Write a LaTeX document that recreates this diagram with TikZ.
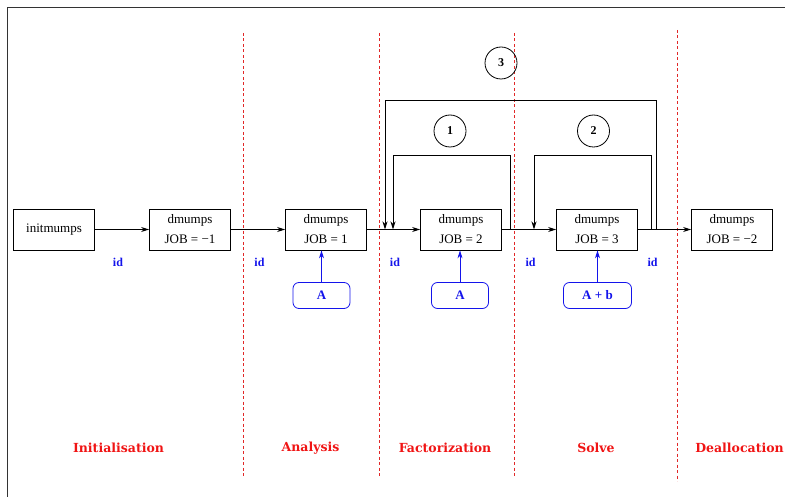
\documentclass[tikz,border=0pt]{standalone}
\usepackage{fontspec}
\setmainfont{Liberation Serif}
\newfontfamily\phasefont{DejaVu Serif}
\usetikzlibrary{arrows.meta}
\definecolor{fblue}{RGB}{20,20,235}
\definecolor{fred}{RGB}{240,20,20}
\definecolor{dred}{RGB}{225,40,40}
\begin{document}
\begin{tikzpicture}[x=1pt,y=-1pt,
  box/.style={draw,line width=0.8pt,minimum width=81pt,minimum height=41pt,inner sep=2pt,align=center,font=\fontsize{13}{20}\selectfont},
  inbox/.style={draw=fblue,text=fblue,line width=0.8pt,rounded corners=6pt,minimum height=26pt,inner sep=2pt,font=\fontsize{13}{15}\selectfont\bfseries},
  idlab/.style={text=fblue,font=\fontsize{12}{14}\selectfont\bfseries},
  phase/.style={text=fred,font=\phasefont\fontsize{12.5}{15}\selectfont\bfseries},
  num/.style={draw,circle,line width=0.8pt,minimum size=32pt,inner sep=0pt,font=\fontsize{12}{14}\selectfont\bfseries},
  arr/.style={line width=0.8pt,-{Stealth[length=8pt,width=5pt,inset=2.5pt]}},
  barr/.style={line width=0.8pt,draw=fblue,-{Stealth[length=8pt,width=5pt,inset=2.5pt]},fblue},
  sep/.style={dred,line width=1pt,dash pattern=on 3pt off 2.5pt}]
\useasboundingbox (0,0) rectangle (785,497);
% frame
\draw[line width=1pt,black!80] (7.5,497) -- (7.5,7.5) -- (785,7.5);
% separators
\draw[sep] (243.5,33) -- (243.5,478);
\draw[sep] (379,33) -- (379,478);
\draw[sep] (514.5,33) -- (514.5,478);
\draw[sep] (677.5,30) -- (677.5,481);
% boxes
\node[box] (b0) at (54,229.5) {initmumps};
\node[box] (b1) at (190,229.5) {dmumps\\JOB = −1};
\node[box] (b2) at (326,229.5) {dmumps\\JOB = 1};
\node[box] (b3) at (461,229.5) {dmumps\\JOB = 2};
\node[box] (b4) at (597,229.5) {dmumps\\JOB = 3};
\node[box] (b5) at (732,229.5) {dmumps\\JOB = −2};
% main flow
\draw[arr] (b0) -- (b1);
\draw[arr] (b1) -- (b2);
\draw[arr] (b2) -- (b3);
\draw[arr] (b3) -- (b4);
\draw[arr] (b4) -- (b5);
% loops
\coordinate (l1s) at (510,229.5);
\coordinate (l1e) at (393,229.5);
\coordinate (l2s) at (651,229.5);
\coordinate (l2e) at (534,229.5);
\coordinate (l3s) at (656,229.5);
\coordinate (l3e) at (385,229.5);
\draw[arr] (l1s) -- (510,155) -- (393,155) -- (l1e);
\draw[arr] (l2s) -- (651,155) -- (534,155) -- (l2e);
\draw[arr] (l3s) -- (656,100.5) -- (385,100.5) -- (l3e);
\node[num] (c1) at (450,131) {1};
\node[num] (c2) at (593.5,131) {2};
\node[num] (c3) at (501,63) {3};
% inputs
\node[inbox,minimum width=57pt] (i2) at (321.5,295.5) {A};
\node[inbox,minimum width=57pt] (i3) at (460,295.5) {A};
\node[inbox,minimum width=68pt] (i4) at (597.5,295.5) {A + b};
\draw[barr] (i2.north) -- (i2.north |- b2.south);
\draw[barr] (i3.north) -- (i3.north |- b3.south);
\draw[barr] (i4.north) -- (i4.north |- b4.south);
% id labels
\node[idlab] (d1) at (118,262) {id};
\node[idlab] (d2) at (259.5,262) {id};
\node[idlab] (d3) at (395,262) {id};
\node[idlab] (d4) at (530.5,262) {id};
\node[idlab] (d5) at (652.5,262) {id};
% phases
\node[phase] (p1) at (118.5,448) {Initialisation};
\node[phase] (p2) at (310.5,448) {Analysis};
\node[phase] (p3) at (445,448) {Factorization};
\node[phase] (p4) at (596,448) {Solve};
\node[phase] (p5) at (739.5,448) {Deallocation};
\end{tikzpicture}
\end{document}
